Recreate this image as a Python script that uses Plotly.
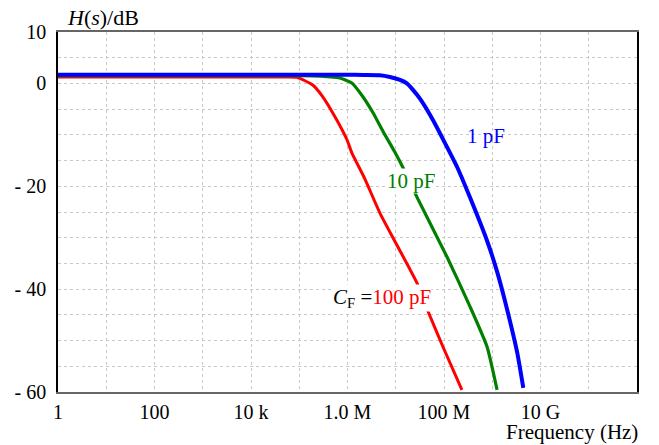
import plotly.graph_objects as go

# Frequencies in Hz and magnitude in dB
f_1pF = [1, 1e3, 1e6, 2.1e6, 4.7e6, 7.6e6, 1.23e7, 1.7e7, 2.3e7, 3.2e7, 5.9e7, 1.05e8,
         1.86e8, 3.5e8, 7.8e8, 1.26e9, 2.05e9, 3.3e9, 4.4e9]
h_1pF = [1.7, 1.7, 1.7, 1.65, 1.6, 1.25, 0.67, 0.0, -1.3, -3.0, -7.1, -11.6,
         -16.2, -22.3, -30.6, -36.6, -44.1, -52.4, -59.2]

f_10pF = [1, 1e5, 2.7e5, 6.9e5, 1.23e6, 2.1e6, 3.4e6, 5.5e6, 9.5e6, 1.4e7, 2.75e7,
          1.15e8, 3.5e8, 7.8e8, 1.26e9]
h_10pF = [1.5, 1.5, 1.4, 1.06, 0.08, -2.64, -5.75, -9.4, -13.3, -16.3, -22.1,
          -33.7, -43.5, -51.2, -59.6]

f_100pF = [1, 1e4, 4.0e4, 8.9e4, 1.9e5, 3.1e5, 6.0e5, 9.8e5, 1.23e6, 2.3e6, 4.7e6,
           2.75e7, 4.7e7, 9.5e7, 2.35e8]
h_100pF = [1.25, 1.25, 1.25, 1.19, -0.31, -2.64, -7.11, -11.0, -13.5, -18.6, -25.2,
           -38.8, -44.4, -51.2, -59.6]

x_tickvals = [10**k for k in range(13)]
x_ticktext = ["1", "", "100", "", "10 k", "", "1.0 M", "", "100 M", "", "10 G", "", ""]
y_tickvals = [10, 5, 0, -5, -10, -15, -20, -25, -30, -35, -40, -45, -50, -55, -60]
y_ticktext = ["10", "", "0", "", "", "", "- 20", "", "", "", "- 40", "", "", "", "- 60"]

FONT = "Liberation Serif, Times New Roman, serif"

fig = go.Figure()
fig.add_trace(go.Scatter(x=f_100pF, y=h_100pF, mode="lines", line=dict(color="#ff0000", width=3, shape="spline", smoothing=0.5)))
fig.add_trace(go.Scatter(x=f_10pF, y=h_10pF, mode="lines", line=dict(color="#008000", width=3.2, shape="spline", smoothing=0.5)))
fig.add_trace(go.Scatter(x=f_1pF, y=h_1pF, mode="lines", line=dict(color="#0000ff", width=4, shape="spline", smoothing=0.5)))

fig.update_layout(
    width=659, height=445,
    margin=dict(l=58, r=22, t=32, b=53),
    paper_bgcolor="white", plot_bgcolor="white",
    showlegend=False,
    font=dict(family=FONT, size=20, color="black"),
    xaxis=dict(type="log", range=[0, 12], tickvals=x_tickvals, ticktext=x_ticktext,
               showgrid=True, gridcolor="#c8c8c8", griddash="dot", gridwidth=1,
               showline=True, linecolor="#666666", linewidth=2, mirror=True,
               ticks="", zeroline=False, ticklabelstandoff=1, tickfont=dict(size=20)),
    yaxis=dict(range=[-60, 10], tickvals=y_tickvals, ticktext=y_ticktext,
               showgrid=True, gridcolor="#c8c8c8", griddash="dot", gridwidth=1,
               showline=True, linecolor="black", linewidth=1.5, mirror=True,
               ticks="", zeroline=False, ticklabelstandoff=6, tickfont=dict(size=20)),
    annotations=[
        dict(x=0.012, y=1.039, xref="paper", yref="paper", xanchor="left", yanchor="middle",
             text="<i>H</i>(<i>s</i>)/dB", showarrow=False, font=dict(size=22)),
        dict(x=0.888, y=-0.1472, xref="paper", yref="paper", xanchor="center", yanchor="bottom",
             text="Frequency (Hz)", showarrow=False, font=dict(size=21), borderpad=0),
        dict(x=8.88, y=-10.2, xref="x", yref="y", text="1 pF", showarrow=False,
             font=dict(size=21, color="#0000ff")),
        dict(x=7.32, y=-19.0, xref="x", yref="y", text="10 pF", showarrow=False,
             font=dict(size=21, color="#008000"), bgcolor="white", borderpad=0),
        dict(x=6.72, y=-41.7, xref="x", yref="y",
             text="<i>C</i><sub>F</sub> =<span style='color:#ff0000'>100 pF</span>",
             showarrow=False, font=dict(size=21, color="black"), bgcolor="white", borderpad=0),
    ],
)

fig.write_html("out.html")
